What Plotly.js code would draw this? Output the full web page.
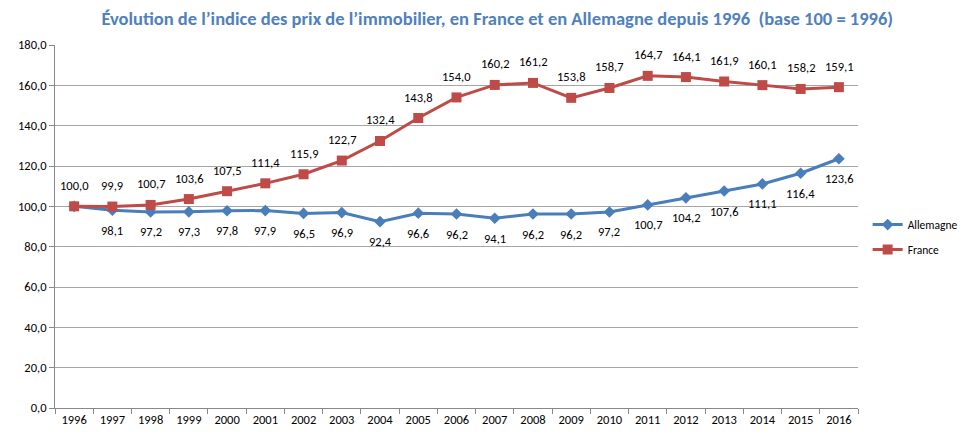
<!DOCTYPE html>
<html>
<head>
<meta charset="utf-8">
<script src="https://cdn.plot.ly/plotly-3.0.1.min.js"></script>
<style>html,body{margin:0;padding:0;background:#fff;}#chart{width:975px;height:441px;}</style>
</head>
<body>
<div id="chart"></div>
<script>
const years = ["1996","1997","1998","1999","2000","2001","2002","2003","2004","2005","2006","2007","2008","2009","2010","2011","2012","2013","2014","2015","2016"];
const allemagne = [100.0, 98.1, 97.2, 97.3, 97.8, 97.9, 96.5, 96.9, 92.4, 96.6, 96.2, 94.1, 96.2, 96.2, 97.2, 100.7, 104.2, 107.6, 111.1, 116.4, 123.6];
const france = [100.0, 99.9, 100.7, 103.6, 107.5, 111.4, 115.9, 122.7, 132.4, 143.8, 154.0, 160.2, 161.2, 153.8, 158.7, 164.7, 164.1, 161.9, 160.1, 158.2, 159.1];
const yTicks = [0, 20, 40, 60, 80, 100, 120, 140, 160, 180];

const blue = '#4A7EBB';
const red = '#BE4B48';
const fam = 'Calibri, Carlito, "Open Sans", sans-serif';
const fmt = v => v.toFixed(1).replace('.', ',');
const labelFont = {family: fam, size: 12.5, color: '#000'};

const annotations = [];
france.forEach((v, i) => annotations.push({xref: 'x', yref: 'y', x: i, y: v, text: fmt(v), showarrow: false, yshift: 21, font: labelFont}));
allemagne.forEach((v, i) => { if (i > 0) annotations.push({xref: 'x', yref: 'y', x: i, y: v, text: fmt(v), showarrow: false, yshift: -20, font: labelFont}); });

const data = [
  {x: years, y: allemagne, name: 'Allemagne', legendgroup: 'a', type: 'scatter', mode: 'lines+markers',
   line: {color: blue, width: 3}, marker: {symbol: 'diamond', size: 9, color: blue}},
  {x: years, y: france, name: 'France', legendgroup: 'b', type: 'scatter', mode: 'lines+markers',
   line: {color: red, width: 3}, marker: {symbol: 'square', size: 10, color: red}}
];

const layout = {
  width: 975, height: 441,
  margin: {l: 55, r: 112, t: 45, b: 33},
  paper_bgcolor: '#fff', plot_bgcolor: '#fff',
  separators: ', ',
  title: {text: '<b>Évolution de l’indice des prix de l’immobilier, en France et en Allemagne depuis 1996  (base 100 = 1996)</b>',
          x: 0.51, xanchor: 'center', y: 0.958, yanchor: 'middle',
          font: {family: fam, size: 18.5, color: '#4F81BD'}},
  xaxis: {type: 'category', range: [-0.5, 20.5], tickson: 'boundaries', ticks: 'outside', ticklen: 5,
          tickcolor: '#888', showline: true, linecolor: '#888', linewidth: 1, showgrid: false, zeroline: false,
          tickfont: {family: fam, size: 12.5, color: '#000'}},
  yaxis: {range: [0, 180], tickvals: yTicks, tickformat: '.1f', ticks: 'outside', ticklen: 5, tickcolor: '#888',
          showline: true, linecolor: '#888', linewidth: 1, showgrid: true, gridcolor: '#A6A6A6', gridwidth: 1,
          zeroline: false, tickfont: {family: fam, size: 12.5, color: '#000'}},
  legend: {x: 1.012, xanchor: 'left', y: 0.471, yanchor: 'middle', font: {family: fam, size: 11.5, color: '#000'},
           tracegroupgap: 6, itemwidth: 30},
  annotations: annotations,
  showlegend: true
};
Plotly.newPlot('chart', data, layout, {displayModeBar: false, staticPlot: true});
</script>
</body>
</html>
